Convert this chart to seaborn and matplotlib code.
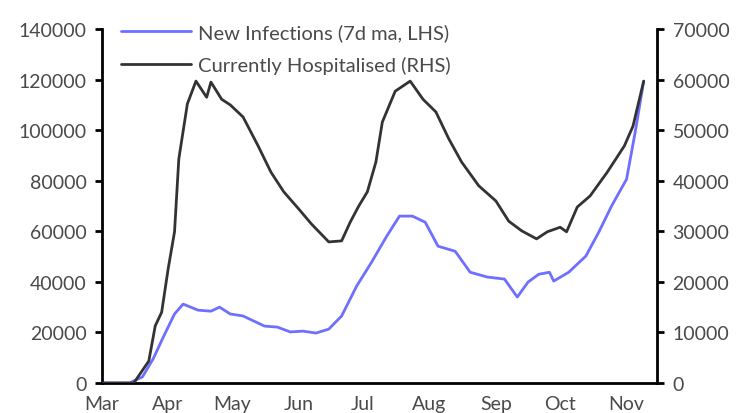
import matplotlib
matplotlib.use('Agg')
import matplotlib.pyplot as plt
import matplotlib.dates as mdates
import pandas as pd
import seaborn as sns

# New infections, 7d moving average (LHS)
inf_dates = ['2020-03-01', '2020-03-14', '2020-03-20', '2020-03-25', '2020-03-30',
             '2020-04-04', '2020-04-08', '2020-04-15', '2020-04-21', '2020-04-25',
             '2020-04-30', '2020-05-06', '2020-05-16', '2020-05-22', '2020-05-28',
             '2020-06-03', '2020-06-09', '2020-06-15', '2020-06-21', '2020-06-28',
             '2020-07-05', '2020-07-12', '2020-07-18', '2020-07-24', '2020-07-30',
             '2020-08-05', '2020-08-13', '2020-08-20', '2020-08-28', '2020-09-05',
             '2020-09-11', '2020-09-16', '2020-09-21', '2020-09-26', '2020-09-28',
             '2020-10-05', '2020-10-13', '2020-10-19', '2020-10-25', '2020-11-01',
             '2020-11-05', '2020-11-09']
inf_values = [0, 0, 2400, 9500, 18600,
              27300, 31200, 28800, 28400, 30000,
              27300, 26500, 22500, 22100, 20200,
              20500, 19750, 21300, 26500, 38300,
              47800, 58000, 66000, 66000, 63600,
              54100, 52100, 43800, 41900, 41100,
              34000, 39900, 43000, 43800, 40300,
              43800, 50200, 59600, 70000, 80600,
              99100, 119300]

# Currently hospitalised (RHS)
hosp_dates = ['2020-03-01', '2020-03-16', '2020-03-23', '2020-03-26', '2020-03-29',
              '2020-04-01', '2020-04-04', '2020-04-06', '2020-04-10', '2020-04-14',
              '2020-04-19', '2020-04-21', '2020-04-26', '2020-04-30', '2020-05-06',
              '2020-05-13', '2020-05-19', '2020-05-25', '2020-06-01', '2020-06-07',
              '2020-06-15', '2020-06-21', '2020-06-25', '2020-06-29', '2020-07-03',
              '2020-07-07', '2020-07-10', '2020-07-16', '2020-07-23', '2020-07-29',
              '2020-08-04', '2020-08-10', '2020-08-16', '2020-08-24', '2020-09-01',
              '2020-09-07', '2020-09-13', '2020-09-20', '2020-09-25', '2020-10-01',
              '2020-10-04', '2020-10-09', '2020-10-15', '2020-10-23', '2020-10-31',
              '2020-11-04', '2020-11-09']
hosp_values = [0, 0, 4350, 11300, 14000,
               22500, 29900, 44300, 55200, 59700,
               56500, 59500, 56100, 55000, 52600,
               46900, 41700, 37800, 34400, 31400,
               27900, 28100, 31800, 35000, 37800,
               43700, 51600, 57700, 59700, 56100,
               53600, 48300, 43700, 39000, 36000,
               32000, 30100, 28500, 29900, 30800,
               29900, 34800, 37000, 41700, 46900,
               50800, 59700]

month_labels = ['Mar', 'Apr', 'May', 'Jun', 'Jul', 'Aug', 'Sep', 'Oct', 'Nov']

inf = pd.DataFrame({'date': pd.to_datetime(inf_dates), 'value': inf_values})
hosp = pd.DataFrame({'date': pd.to_datetime(hosp_dates), 'value': hosp_values})

sns.set_style('white')
plt.rcParams['font.family'] = ['Lato', 'DejaVu Sans']

blue = '#6F6FFF'
dark = '#333333'
text_col = '#4a4a4a'

fig = plt.figure(figsize=(7.39, 4.14), dpi=100)
ax = fig.add_axes([0.1376, 0.0725, 0.7518, 0.855])
ax2 = ax.twinx()

sns.lineplot(data=inf, x='date', y='value', ax=ax, color=blue, lw=2,
             label='New Infections (7d ma, LHS)', legend=False)
sns.lineplot(data=hosp, x='date', y='value', ax=ax2, color=dark, lw=2,
             label='Currently Hospitalised (RHS)', legend=False)

ax.set_ylim(0, 140000)
ax.set_yticks(range(0, 140001, 20000))
ax2.set_ylim(0, 70000)
ax2.set_yticks(range(0, 70001, 10000))
ax.set_xlim(pd.Timestamp('2020-03-01'), pd.Timestamp('2020-11-15 08:00'))
ax.xaxis.set_major_locator(mdates.MonthLocator())
ticks = ax.get_xticks()
ax.set_xticks(ticks[:len(month_labels)])
ax.set_xticklabels(month_labels)

for a in (ax, ax2):
    a.set_xlabel('')
    a.set_ylabel('')
    a.grid(False)
    for s in a.spines.values():
        s.set_visible(False)
    a.tick_params(colors=text_col, labelsize=14, length=5, width=2,
                  color='black', direction='out')
ax.spines['left'].set_visible(True)
ax.spines['bottom'].set_visible(True)
ax2.spines['right'].set_visible(True)
for a, side in ((ax, 'left'), (ax, 'bottom'), (ax2, 'right')):
    a.spines[side].set_color('black')
    a.spines[side].set_linewidth(2)
ax.tick_params(axis='y', pad=6)
ax2.tick_params(axis='y', pad=6)
ax.tick_params(axis='x', pad=4)

h1, l1 = ax.get_legend_handles_labels()
h2, l2 = ax2.get_legend_handles_labels()
leg = ax2.legend(h1 + h2, l1 + l2, loc='upper left', bbox_to_anchor=(0.02, 1.04),
                 frameon=False, fontsize=14.5, handlelength=3.5, handletextpad=0.35,
                 labelspacing=0.75, borderaxespad=0)
for t in leg.get_texts():
    t.set_color(text_col)

fig.savefig('out.png', dpi=100)
